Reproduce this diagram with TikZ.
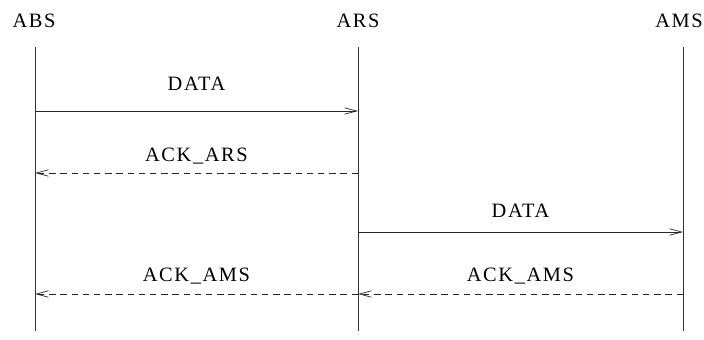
\documentclass[tikz,border=0pt]{standalone}
\usepackage{fontspec}
\setmainfont{Liberation Serif}
\newfontfamily\diagfont[LetterSpace=8]{Liberation Serif}
\usetikzlibrary{arrows.meta, positioning}

\begin{document}
\begin{tikzpicture}[
    x=0.025cm, y=-0.025cm,
    entity/.style={inner sep=0pt, font=\diagfont\fontsize{14.5}{16}\selectfont},
    lifeline/.style={draw=black!80, line width=0.5pt},
    msg/.style={-{Straight Barb[length=0.3cm, width=0.16cm, line width=0.5pt]}, line width=0.5pt, draw=black!85},
    reply/.style={msg, dash pattern=on 0.16cm off 0.12cm},
    msglabel/.style={inner sep=0pt, font=\diagfont\fontsize{14.5}{16}\selectfont}
]
    \useasboundingbox (0,0) rectangle (704,340);

    % parties
    \node (abs) [entity] at (34,21) {ABS};
    \node (ars) [entity] at (358,21) {ARS};
    \node (ams) [entity, anchor=east] at (703,21) {AMS};

    \coordinate (absbot) at (35,331);
    \coordinate (arsbot) at (358,331);
    \coordinate (amsbot) at (683,331);

    \draw [lifeline] (35,47) -- (absbot);
    \draw [lifeline] (358,47) -- (arsbot);
    \draw [lifeline] (683,47) -- (amsbot);

    % message points on the lifelines
    \coordinate (abs1) at (35,111);
    \coordinate (ars1) at (358,111);
    \coordinate (ars2) at (358,173);
    \coordinate (abs2) at (35,173);
    \coordinate (ars3) at (358,232);
    \coordinate (ams3) at (683,232);
    \coordinate (ams4) at (683,294);
    \coordinate (ars4) at (358,294);
    \coordinate (abs4) at (35,294);

    \draw [msg] (abs1) -- node [msglabel, above=14pt] (data1) {DATA} (ars1);
    \draw [reply] (ars2) -- node [msglabel, above=6pt] (ackars) {ACK\_ARS} (abs2);
    \draw [msg] (ars3) -- node [msglabel, above=10pt] (data2) {DATA} (ams3);
    \draw [reply] (ams4) -- node [msglabel, above=7pt] (ackams2) {ACK\_AMS} (ars4);
    \draw [reply] (ars4) -- node [msglabel, above=7pt] (ackams1) {ACK\_AMS} (abs4);
\end{tikzpicture}
\end{document}
